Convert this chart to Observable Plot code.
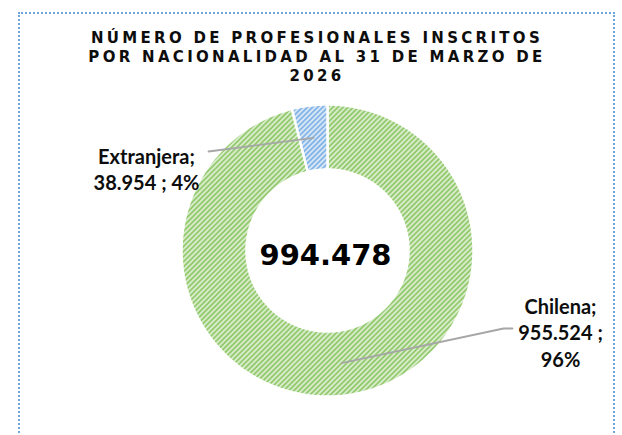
<!DOCTYPE html>
<html>
<head>
<meta charset="utf-8">
<script src="https://cdn.jsdelivr.net/npm/d3@7"></script>
<script src="https://cdn.jsdelivr.net/npm/@observablehq/plot@0.6"></script>
<style>
  html, body { margin: 0; padding: 0; background: #fff; }
  body { width: 622px; height: 435px; overflow: hidden; position: relative; }
  #frame { position: absolute; left: 18px; top: 12px; width: 597px; height: 520px;
           border: 2px dotted #6ea6dc; box-sizing: border-box; }
  #title { position: absolute; left: 0; top: 29px; width: 622px; text-align: center;
           font-family: "DejaVu Sans", sans-serif; font-weight: bold; font-size: 15px;
           line-height: 19px; letter-spacing: 3.3px; color: #0d0d0d; padding-left: 12px; box-sizing: border-box; }
  #chart { position: absolute; left: 0; top: 0; }
</style>
</head>
<body>
<div id="frame"></div>
<div id="title"><div>NÚMERO DE PROFESIONALES INSCRITOS</div><div>POR NACIONALIDAD AL 31 DE MARZO DE</div><div>2026</div></div>
<div id="chart"></div>
<script>
// ---- data ----
const categories = ["Chilena", "Extranjera"];
const values = [955524, 38954];
const patterns = ["url(#pat-green)", "url(#pat-blue)"];

// ---- layout ----
const W = 622, H = 435;
const cx = 327, cy = 250, R = 146, r = 81;

const fmt = d3.formatLocale({decimal: ",", thousands: ".", grouping: [3], currency: ["$", ""]}).format(",d");
const total = d3.sum(values);

let acc = 0;
const slices = categories.map((c, i) => {
  const a0 = acc / total * 360; acc += values[i];
  const a1 = acc / total * 360;
  return {c, i, a0, a1, mid: (a0 + a1) / 2, pct: Math.round(values[i] / total * 100) + "%"};
});
function pt(a, rad) { const t = a * Math.PI / 180; return [cx + rad * Math.sin(t), cy - rad * Math.cos(t)]; }

const ring = [];
for (const s of slices) {
  const n = Math.max(10, Math.ceil(s.a1 - s.a0));
  const pts = [];
  for (let k = 0; k <= n; k++) pts.push(pt(s.a0 + (s.a1 - s.a0) * k / n, R));
  for (let k = n; k >= 0; k--) pts.push(pt(s.a0 + (s.a1 - s.a0) * k / n, r));
  pts.push(pts[0]);
  for (const [x, y] of pts) ring.push({c: s.c, x, y});
}

// labels
const labelLayout = {
  "Chilena": {x: 560, y: 307, lines: s => [s.c + ";", fmt(values[s.i]) + " ;", s.pct], elbow: [[-57, 21], [-48, 21]]},
  "Extranjera": {x: 146, y: 157, lines: s => [s.c + ";", fmt(values[s.i]) + " ; " + s.pct], elbow: [[62, -6]]}
};
const labelRows = [];
const leaders = [];
for (const s of slices) {
  const L = labelLayout[s.c];
  L.lines(s).forEach((t, k) => labelRows.push({x: L.x, y: L.y + k * 26.5, t}));
  const [sx, sy] = pt(s.mid, (R + r) / 2);
  leaders.push({c: s.c, x: sx, y: sy});
  for (const [dx, dy] of L.elbow) leaders.push({c: s.c, x: L.x + dx, y: L.y + dy});
}

const plot = Plot.plot({
  width: W, height: H, margin: 0,
  x: {domain: [0, W], range: [0, W], axis: null},
  y: {domain: [0, H], range: [0, H], axis: null},
  style: {background: "transparent", overflow: "visible"},
  marks: [
    ...slices.map(s => Plot.line(ring.filter(d => d.c === s.c), {x: "x", y: "y", fill: patterns[s.i], stroke: "white", strokeWidth: 2.5, strokeLinejoin: "miter"})),
    Plot.line(leaders, {x: "x", y: "y", z: "c", stroke: "#a6a6a6", strokeWidth: 1.8}),
    Plot.text(labelRows, {x: "x", y: "y", text: "t", fontFamily: "Lato, sans-serif", fontWeight: "bold", fontSize: 20, fill: "#0d0d0d", lineAnchor: "middle"}),
    Plot.text([fmt(total)], {x: cx - 2, y: 255.5, text: d => d, fontFamily: "DejaVu Sans, sans-serif", fontWeight: "bold", fontSize: 29, fill: "#000", lineAnchor: "middle"})
  ]
});

d3.select(plot).insert("defs", ":first-child").html(`
  <pattern id="pat-green" patternUnits="userSpaceOnUse" width="3.6" height="3.6" patternTransform="rotate(45)">
    <rect width="3.6" height="3.6" fill="#d8ecca"></rect>
    <rect width="1.8" height="3.6" fill="#94ca70"></rect>
  </pattern>
  <pattern id="pat-blue" patternUnits="userSpaceOnUse" width="3.6" height="3.6" patternTransform="rotate(45)">
    <rect width="3.6" height="3.6" fill="#d6e6f6"></rect>
    <rect width="1.8" height="3.6" fill="#84b5e6"></rect>
  </pattern>`);

document.getElementById("chart").appendChild(plot);
</script>
</body>
</html>
